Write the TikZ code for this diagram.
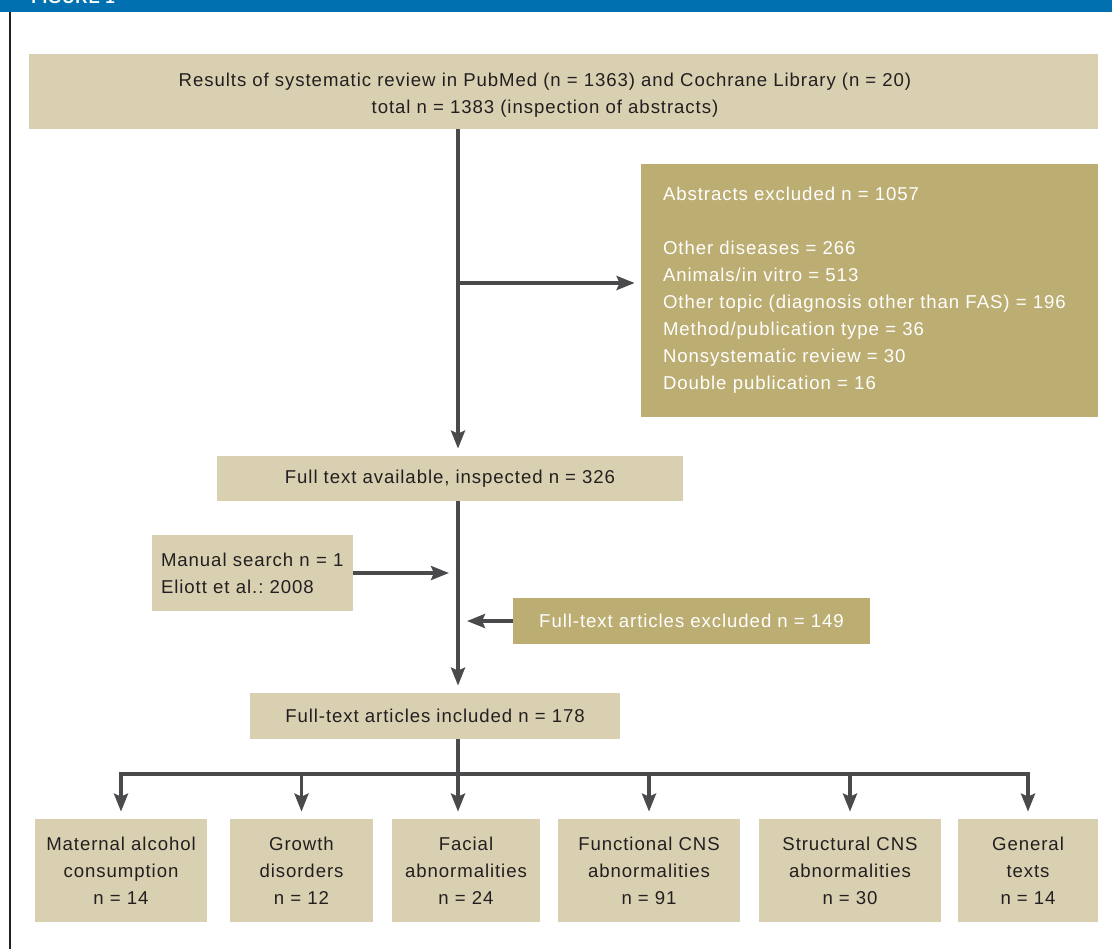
\documentclass[tikz,border=0pt]{standalone}
\usepackage{fontspec}
\setmainfont{Liberation Sans}[LetterSpace=5]
\usetikzlibrary{arrows.meta}
\definecolor{paletan}{RGB}{217,208,177}
\definecolor{darktan}{RGB}{188,173,115}
\definecolor{flowgrey}{RGB}{74,74,76}
\definecolor{inkblack}{RGB}{35,31,32}
\definecolor{barblue}{RGB}{0,112,176}
\frenchspacing

\begin{document}
\begin{tikzpicture} [
	x = 0.5pt, y = -0.5pt,
	font = \fontsize{9.3}{13.5}\selectfont,
	pale/.style = {fill=paletan, text=inkblack, inner sep=0pt, align=center},
	dark/.style = {fill=darktan, text=white, inner sep=0pt, align=center},
	group/.style = {pale, minimum height=51.5pt},
	flow/.style = {draw=flowgrey, line width=1.75pt},
	flowarrow/.style = {flow, -{Stealth[length=9pt, width=7pt, inset=1.5pt]}, shorten >= 3.5pt},
]
\useasboundingbox (0,0) rectangle (1112,949);
\fill [barblue] (0,0) rectangle (1112,12);
\begin{scope}
	\clip (0,0) rectangle (1112,12);
	\node [anchor=base west, inner sep=0pt, text=white, font=\bfseries\fontsize{8.5}{10}\selectfont] (title) at (31,3) {FIGURE 1};
\end{scope}
\draw [inkblack, line width=1.25pt] (9.75,12) -- (9.75,949);

\node [pale, minimum width=534.5pt, minimum height=37.5pt] (res) at (563.5,91.5) {};
\node [align=center, text=inkblack, inner sep=0pt] (restext) at (545,95.5)
	{Results of systematic review in PubMed (n = 1363) and Cochrane Library (n = 20)\\total n = 1383 (inspection of abstracts)};
\node [dark, align=left, text width=206.5pt, inner xsep=11pt, minimum height=126.5pt] (abs) at (869.5,290.5)
	{Abstracts excluded n = 1057\\[13.5pt]Other diseases = 266\\Animals/in vitro = 513\\Other topic (diagnosis other than FAS) = 196\\Method/publication type = 36\\Nonsystematic review = 30\\Double publication = 16};
\node [pale, minimum width=233pt, minimum height=22.5pt] (full) at (450,478.5) {Full text available, inspected n = 326};
\node [pale, align=left, text width=91.5pt, inner xsep=4.5pt, minimum height=38pt] (manual) at (252.5,573) {Manual search n = 1\\Eliott et al.: 2008};
\node [dark, minimum width=178.5pt, minimum height=23pt] (ftexcl) at (691.5,621) {Full-text articles excluded n = 149};
\node [pale, minimum width=185pt, minimum height=23pt] (incl) at (435,716) {Full-text articles included n = 178};

\node [group, minimum width=86pt] (mat) at (121,870.5) {Maternal alcohol\\consumption\\n = 14};
\node [group, minimum width=71.5pt] (gro) at (301.5,870.5) {Growth\\disorders\\n = 12};
\node [group, minimum width=74pt] (fac) at (466,870.5) {Facial\\abnormalities\\n = 24};
\node [group, minimum width=91pt] (fun) at (649,870.5) {Functional CNS\\abnormalities\\n = 91};
\node [group, minimum width=91pt] (str) at (850,870.5) {Structural CNS\\abnormalities\\n = 30};
\node [group, minimum width=70pt] (gen) at (1028,870.5) {General\\texts\\n = 14};

\coordinate (fork) at (458,283);
\coordinate (split) at (458,774);

\draw [flowarrow] (res.south -| split) -- (full.north -| split);
\draw [flowarrow, shorten >= 3pt] (fork) -- (fork -| abs.west);
\draw [flowarrow] (full.south -| split) -- (incl.north -| split);
\draw [flowarrow, shorten >= 4.5pt] (manual.east) -- (manual.east -| split);
\draw [flowarrow, shorten >= 4.5pt] (ftexcl.west) -- (ftexcl.west -| split);
\draw [flow] (incl.south -| split) -- (split);
\draw [flow, line cap=rect] (split -| mat) -- (split -| gen);
\draw [flowarrow] (split -| mat) -- (mat);
\draw [flowarrow] (split -| gro) -- (gro);
\draw [flowarrow] (split) -- (split |- fac.north);
\draw [flowarrow] (split -| fun) -- (fun);
\draw [flowarrow] (split -| str) -- (str);
\draw [flowarrow] (split -| gen) -- (gen);
\end{tikzpicture}
\end{document}
